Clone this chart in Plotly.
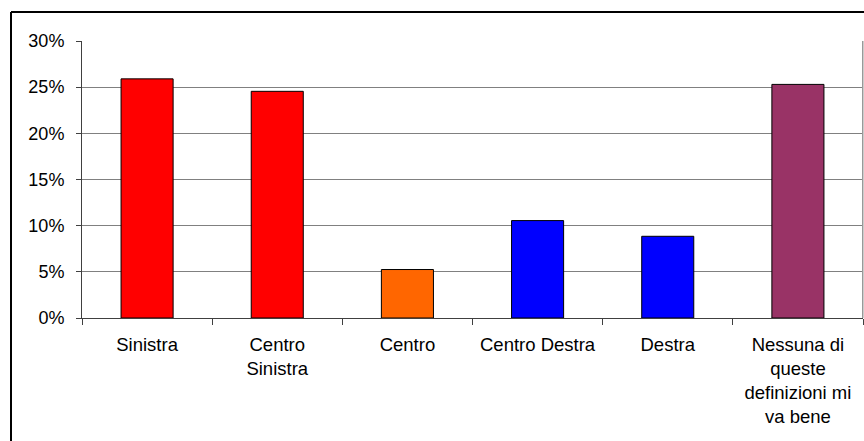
import plotly.graph_objects as go

categories = ["Sinistra", "Centro<br>Sinistra", "Centro", "Centro Destra", "Destra",
              "Nessuna di<br>queste<br>definizioni mi<br>va bene"]
values = [25.9, 24.55, 5.25, 10.55, 8.85, 25.3]
colors = ["#FF0000", "#FF0000", "#FF6600", "#0000FF", "#0000FF", "#993366"]
y_ticks = [0, 5, 10, 15, 20, 25, 30]

W, H = 864, 441
L, R, T, B = 82, 1, 41, 123

fig = go.Figure(go.Bar(
    x=categories, y=values, width=0.4,
    marker=dict(color=colors, line=dict(color="#000000", width=1)),
))

pw = W - L - R
ph = H - T - B
fx = lambda px: (px - L) / pw
fy = lambda py: (H - B - py) / ph

fig.update_layout(
    width=W, height=H,
    margin=dict(l=L, r=R, t=T, b=B, pad=0),
    paper_bgcolor="white", plot_bgcolor="white",
    font=dict(family="Liberation Sans, Arial, sans-serif", size=18, color="#000000"),
    showlegend=False,
    bargap=0.6,
    xaxis=dict(
        type="category", tickson="boundaries", ticks="outside", ticklen=6,
        tickcolor="#404040", showline=True, linecolor="#404040", linewidth=1,
        showgrid=False, tickfont=dict(size=18.5), ticklabelstandoff=10,
    ),
    yaxis=dict(
        range=[0, 30], tickvals=y_ticks, ticktext=[f"{v}%" for v in y_ticks],
        ticks="outside", ticklen=5, tickcolor="#404040",
        showline=True, linecolor="#404040", linewidth=1,
        showgrid=True, gridcolor="#808080", gridwidth=1,
        zeroline=False, tickfont=dict(size=18), ticklabelstandoff=8,
    ),
    shapes=[
        dict(type="rect", xref="paper", yref="paper", x0=fx(862), x1=fx(863.5), y0=0, y1=1,
             fillcolor="#999999", line=dict(width=0), layer="above"),
        dict(type="line", xref="paper", yref="paper", x0=fx(11), x1=fx(W + 5),
             y0=fy(12), y1=fy(12), line=dict(color="#000000", width=2)),
        dict(type="line", xref="paper", yref="paper", x0=fx(11), x1=fx(11),
             y0=fy(12), y1=fy(H + 5), line=dict(color="#000000", width=2)),
    ],
)

fig.write_html("out.html", config={"displayModeBar": False})
